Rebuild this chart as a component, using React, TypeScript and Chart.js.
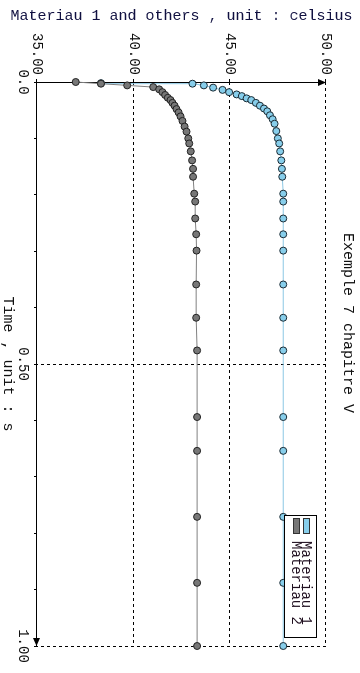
import React, { useEffect, useRef } from "react";
import { Chart, registerables } from "chart.js";

Chart.register(...registerables);

// Materiau 1 (light blue)
const m1Time = [0.002, 0.003, 0.006, 0.010, 0.014, 0.018, 0.022, 0.025, 0.029, 0.032, 0.037, 0.042, 0.047, 0.052, 0.059, 0.066, 0.074, 0.087, 0.100, 0.109, 0.123, 0.139, 0.154, 0.168, 0.198, 0.212, 0.242, 0.270, 0.299, 0.359, 0.418, 0.476, 0.594, 0.654, 0.771, 0.888, 1.0];
const m1Temp = [38.32, 43.07, 43.66, 44.14, 44.63, 44.97, 45.36, 45.63, 45.88, 46.12, 46.36, 46.57, 46.78, 46.95, 47.09, 47.23, 47.33, 47.42, 47.50, 47.57, 47.62, 47.68, 47.71, 47.73, 47.78, 47.78, 47.78, 47.78, 47.78, 47.78, 47.78, 47.78, 47.78, 47.78, 47.78, 47.78, 47.78];

// Materiau 2 (gray)
const m2Time = [0, 0.003, 0.006, 0.009, 0.013, 0.018, 0.023, 0.028, 0.032, 0.037, 0.042, 0.048, 0.054, 0.061, 0.069, 0.079, 0.088, 0.100, 0.109, 0.123, 0.139, 0.154, 0.168, 0.198, 0.212, 0.242, 0.270, 0.299, 0.359, 0.418, 0.476, 0.594, 0.654, 0.771, 0.888, 1.0];
const m2Temp = [37.01, 38.32, 39.68, 41.03, 41.34, 41.51, 41.65, 41.79, 41.93, 42.03, 42.14, 42.24, 42.35, 42.45, 42.55, 42.66, 42.76, 42.85, 42.90, 42.98, 43.05, 43.10, 43.10, 43.16, 43.21, 43.21, 43.26, 43.28, 43.26, 43.26, 43.31, 43.31, 43.31, 43.31, 43.31, 43.31];

const seriesLabels = ["Materiau 1", "Materiau 2"];
const timeLabels: Record<number, string> = { 0: "0.0", 50: "0.50", 100: "1.00" };
const tempTicks = [35, 40, 45, 50];

const FONT = "'Courier New', 'Liberation Mono', monospace";
const W = 673;
const H = 360;

const axesPlugin = {
  id: "axesArrows",
  beforeDatasetsDraw(chart: any) {
    const { ctx, chartArea } = chart;
    const { left, right, top, bottom } = chartArea;
    ctx.save();
    ctx.strokeStyle = "#000";
    ctx.fillStyle = "#000";
    ctx.lineWidth = 1;
    ctx.setLineDash([]);
    ctx.beginPath();
    ctx.moveTo(left + 0.5, bottom + 0.5);
    ctx.lineTo(left + 0.5, top);
    ctx.moveTo(left, bottom + 0.5);
    ctx.lineTo(right, bottom + 0.5);
    ctx.stroke();
    ctx.beginPath();
    ctx.moveTo(left + 0.5, top);
    ctx.lineTo(left + 0.5 - 3.5, top + 8);
    ctx.lineTo(left + 0.5 + 3.5, top + 8);
    ctx.closePath();
    ctx.fill();
    ctx.beginPath();
    ctx.moveTo(right, bottom + 0.5);
    ctx.lineTo(right - 8, bottom + 0.5 - 3.5);
    ctx.lineTo(right - 8, bottom + 0.5 + 3.5);
    ctx.closePath();
    ctx.fill();
    ctx.restore();
  },
};

const legendPlugin = {
  id: "boxLegend",
  afterDraw(chart: any) {
    const { ctx } = chart;
    const x = 515.5;
    const y = 43.5;
    const w = 122;
    const h = 32;
    ctx.save();
    ctx.fillStyle = "#fff";
    ctx.fillRect(x, y, w, h);
    ctx.strokeStyle = "#000";
    ctx.lineWidth = 1;
    ctx.strokeRect(x, y, w, h);
    ctx.font = `14px ${FONT}`;
    ctx.textBaseline = "middle";
    ctx.textAlign = "left";
    chart.data.datasets.forEach((ds: any, i: number) => {
      const cy = 54 + i * 10;
      ctx.fillStyle = ds.pointBackgroundColor;
      ctx.fillRect(518.5, cy - 3.5, 15, 6);
      ctx.strokeStyle = "#333";
      ctx.strokeRect(518.5, cy - 3.5, 15, 6);
      ctx.fillStyle = "#201020";
      ctx.fillText(ds.label, 541, cy);
    });
    ctx.restore();
  },
};

export default function App() {
  const ref = useRef<HTMLCanvasElement | null>(null);

  useEffect(() => {
    if (!ref.current) return;
    const chart = new Chart(ref.current, {
      type: "scatter",
      data: {
        datasets: [
          {
            label: seriesLabels[0],
            data: m1Time.map((t, i) => ({ x: t, y: m1Temp[i] })),
            showLine: true,
            borderColor: "#8cc8e4",
            borderWidth: 1,
            pointBackgroundColor: "#87ceeb",
            pointBorderColor: "#1a2a33",
            pointBorderWidth: 1,
            pointRadius: 3.5,
            clip: false,
            order: 1,
          },
          {
            label: seriesLabels[1],
            data: m2Time.map((t, i) => ({ x: t, y: m2Temp[i] })),
            showLine: true,
            borderColor: "#808080",
            borderWidth: 1,
            pointBackgroundColor: "#777777",
            pointBorderColor: "#222222",
            pointBorderWidth: 1,
            pointRadius: 3.5,
            clip: false,
            order: 0,
          },
        ],
      },
      options: {
        animation: false,
        responsive: false,
        devicePixelRatio: 1,
        events: [],
        layout: { padding: { left: 0, right: 27, top: 0, bottom: 0 } },
        plugins: {
          legend: { display: false },
          tooltip: { enabled: false },
          title: {
            display: true,
            text: "Exemple 7 chapitre V",
            color: "#101010",
            font: { family: FONT, size: 15, weight: "normal", lineHeight: 1 },
            padding: { top: 5, bottom: 14 },
          },
        },
        scales: {
          x: {
            type: "linear",
            position: "bottom",
            min: 0,
            max: 1,
            afterFit: (s: any) => {
              s.height = 37;
            },
            ticks: {
              stepSize: 0.1,
              autoSkip: false,
              maxRotation: 0,
              minRotation: 0,
              padding: 3,
              color: "#101010",
              font: { family: FONT, size: 14 },
              callback: (v: any) => {
                const k = Math.round(Number(v) * 100);
                return timeLabels[k] ?? "";
              },
            },
            grid: {
              color: (c: any) => {
                const k = Math.round(Number(c.tick?.value) * 100);
                return k === 50 || k === 100 ? "#000" : "rgba(0,0,0,0)";
              },
              tickColor: "#000",
              tickLength: 3,
              lineWidth: 1,
            },
            border: { display: false, dash: [3, 3] },
            title: {
              display: true,
              text: "Time , unit : s",
              color: "#101010",
              font: { family: FONT, size: 15, lineHeight: 1 },
              padding: { top: 0, bottom: 0 },
            },
          },
          y: {
            type: "linear",
            position: "left",
            min: 35,
            max: 50,
            afterFit: (s: any) => {
              s.width = 82;
            },
            afterBuildTicks: (s: any) => {
              s.ticks = tempTicks.map((v) => ({ value: v }));
            },
            ticks: {
              padding: 4,
              color: "#101010",
              font: { family: FONT, size: 14 },
              callback: (v: any) => Number(v).toFixed(2),
            },
            grid: {
              color: (c: any) => (Number(c.tick?.value) === 35 ? "rgba(0,0,0,0)" : "#000"),
              tickColor: "#000",
              tickLength: 3,
              lineWidth: 1,
            },
            border: { display: false, dash: [3, 3] },
            title: {
              display: true,
              text: "Materiau 1 and others , unit : celsius",
              color: "#101040",
              font: { family: FONT, size: 15, lineHeight: 1 },
              padding: { top: 9, bottom: 0 },
            },
          },
        },
      },
      plugins: [axesPlugin, legendPlugin],
    } as any);
    return () => chart.destroy();
  }, []);

  return (
    <div
      style={{
        position: "fixed",
        left: 0,
        top: 0,
        width: 360,
        height: 673,
        overflow: "hidden",
        background: "#fff",
      }}
    >
      <div
        style={{
          position: "absolute",
          left: 0,
          top: 0,
          width: W,
          height: H,
          transformOrigin: "0 0",
          transform: `translate(${H}px, 0px) rotate(90deg)`,
        }}
      >
        <canvas ref={ref} width={W} height={H} style={{ display: "block", width: W, height: H }} />
      </div>
    </div>
  );
}
